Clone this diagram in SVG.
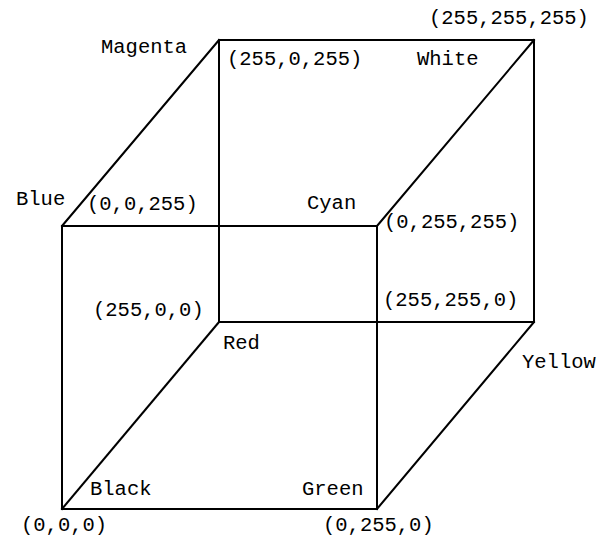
<svg xmlns="http://www.w3.org/2000/svg" width="610" height="546" viewBox="0 0 610 546">
<style>
text{font-family:"Liberation Mono","Courier New",monospace;font-size:20.5px;fill:#000}
.e{stroke:#000;stroke-width:2;fill:none;stroke-linecap:square}
</style>
<rect width="610" height="546" fill="#fff"/>
<g id="edges">
<line class="e" x1="62" y1="226" x2="377" y2="226"/>
<line class="e" x1="62" y1="509" x2="377" y2="509"/>
<line class="e" x1="62" y1="226" x2="62" y2="509"/>
<line class="e" x1="377" y1="226" x2="377" y2="509"/>
<line class="e" x1="219" y1="40" x2="534" y2="40"/>
<line class="e" x1="219" y1="322" x2="534" y2="322"/>
<line class="e" x1="219" y1="40" x2="219" y2="322"/>
<line class="e" x1="534" y1="40" x2="534" y2="322"/>
<line class="e" x1="62" y1="226" x2="219" y2="40"/>
<line class="e" x1="377" y1="226" x2="534" y2="40"/>
<line class="e" x1="62" y1="509" x2="219" y2="322"/>
<line class="e" x1="377" y1="509" x2="534" y2="322"/>
</g>
<g id="white"><text x="429" y="24">(255,255,255)</text><text x="417" y="65">White</text></g>
<g id="magenta"><text x="101" y="53">Magenta</text><text x="227" y="65">(255,0,255)</text></g>
<g id="blue"><text x="16" y="205">Blue</text><text x="87" y="210">(0,0,255)</text></g>
<g id="cyan"><text x="307" y="209">Cyan</text><text x="384" y="228">(0,255,255)</text></g>
<g id="red"><text x="93" y="316">(255,0,0)</text><text x="223" y="349">Red</text></g>
<g id="yellow"><text x="383" y="306">(255,255,0)</text><text x="522" y="368">Yellow</text></g>
<g id="black"><text x="90" y="495">Black</text><text x="21" y="531">(0,0,0)</text></g>
<g id="green"><text x="302" y="495">Green</text><text x="323" y="531">(0,255,0)</text></g>
</svg>
